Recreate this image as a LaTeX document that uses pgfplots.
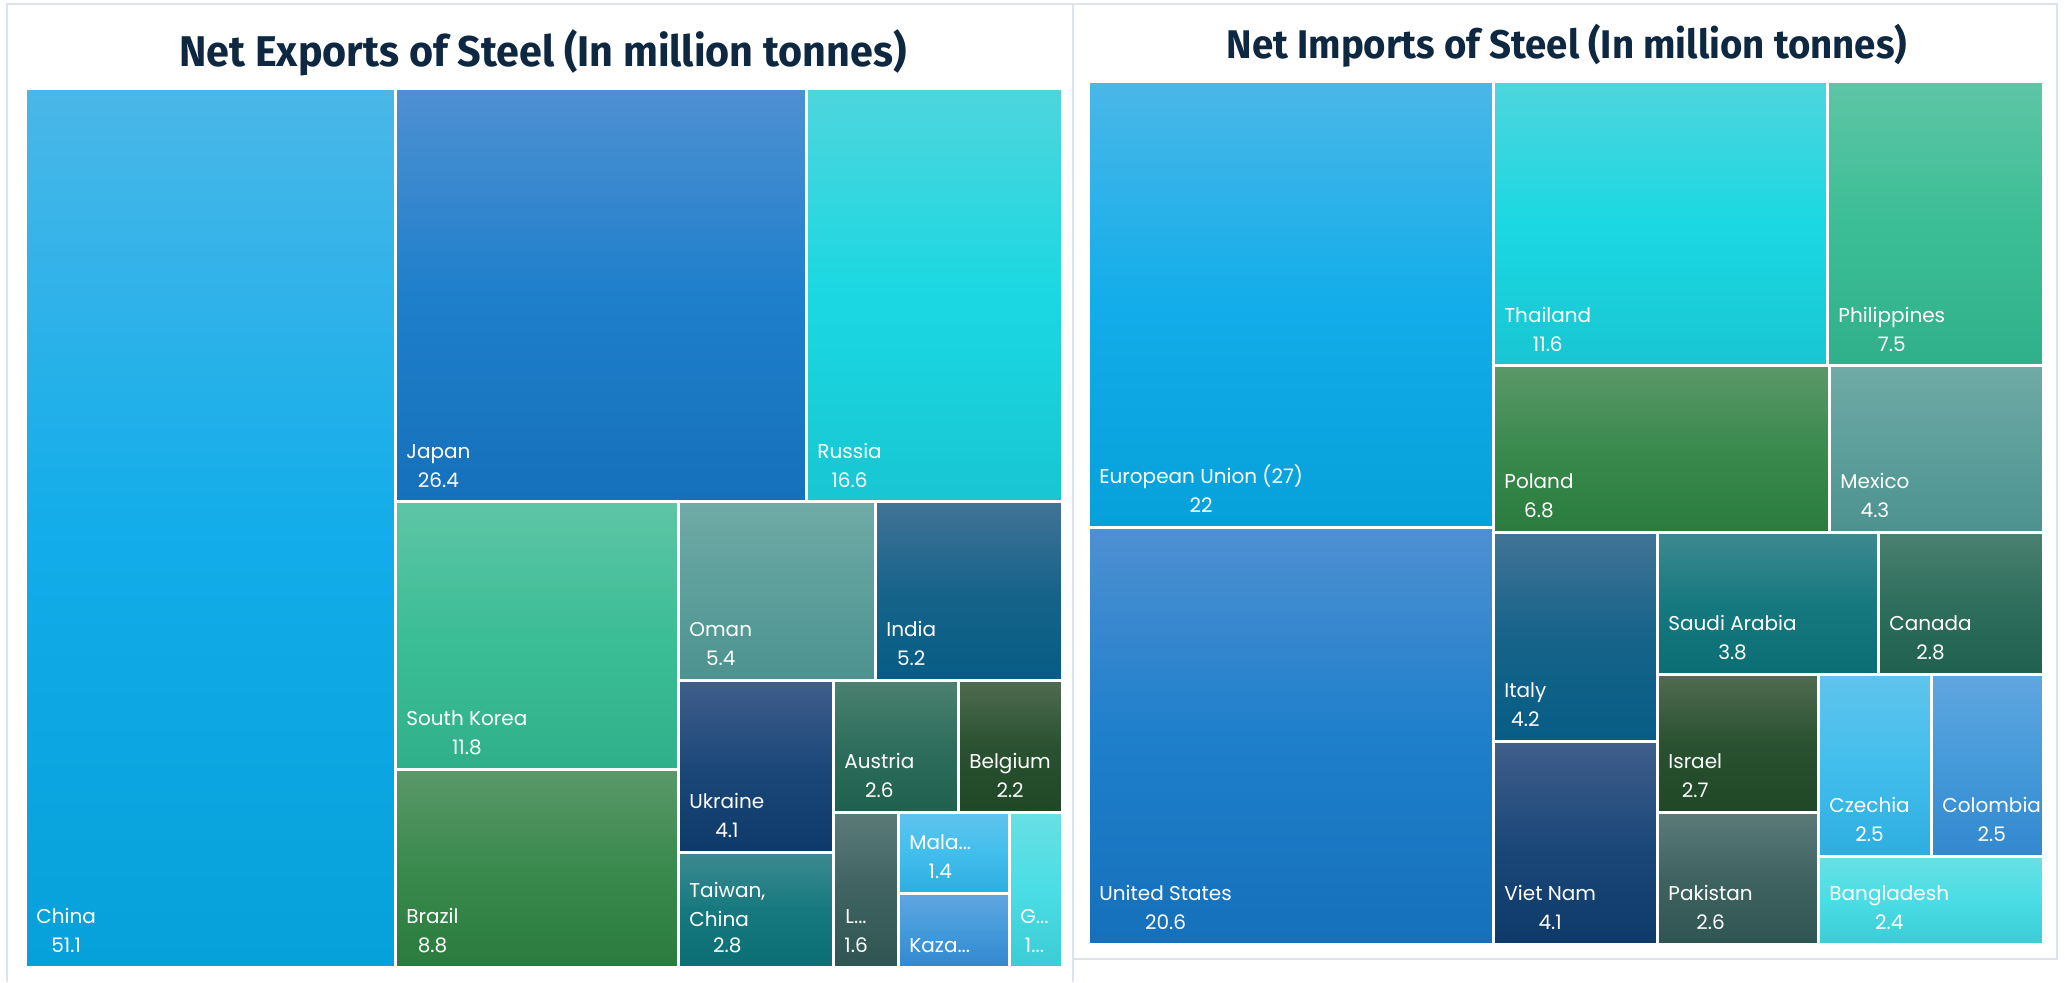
\documentclass[border=0pt]{standalone}
\usepackage{fontspec}
\setmainfont{Poppins}
\newfontfamily\titlefont{Fira Sans}[FakeStretch=0.96]
\usepackage{pgfplots}
\pgfplotsset{compat=1.18}
\definecolor{titlecol}{HTML}{0E2841}
\definecolor{bordergray}{HTML}{DCE3EA}
\definecolor{c1t}{HTML}{4AB7E8}\definecolor{c1m}{HTML}{12ADEA}\definecolor{c1b}{HTML}{06A0DA}
\definecolor{c2t}{HTML}{4E90D2}\definecolor{c2m}{HTML}{1E7FCB}\definecolor{c2b}{HTML}{1670BB}
\definecolor{c3t}{HTML}{4ED5DD}\definecolor{c3m}{HTML}{1AD8E2}\definecolor{c3b}{HTML}{18C6D2}
\definecolor{c4t}{HTML}{5EC5A5}\definecolor{c4m}{HTML}{3BBE95}\definecolor{c4b}{HTML}{30B08A}
\definecolor{c5t}{HTML}{5B9869}\definecolor{c5m}{HTML}{3A8A4E}\definecolor{c5b}{HTML}{2A7B3D}
\definecolor{c6t}{HTML}{70AAA6}\definecolor{c6m}{HTML}{5C9F9B}\definecolor{c6b}{HTML}{4D928F}
\definecolor{c7t}{HTML}{417396}\definecolor{c7m}{HTML}{17638A}\definecolor{c7b}{HTML}{065D85}
\definecolor{c8t}{HTML}{405E8B}\definecolor{c8m}{HTML}{1C4879}\definecolor{c8b}{HTML}{0E3A6A}
\definecolor{c9t}{HTML}{3D8A90}\definecolor{c9m}{HTML}{16797F}\definecolor{c9b}{HTML}{0B6E74}
\definecolor{c10t}{HTML}{4B8171}\definecolor{c10m}{HTML}{2F6E5C}\definecolor{c10b}{HTML}{1F614E}
\definecolor{c11t}{HTML}{506B51}\definecolor{c11m}{HTML}{2A5131}\definecolor{c11b}{HTML}{1F4826}
\definecolor{c12t}{HTML}{5B7B79}\definecolor{c12m}{HTML}{3F6361}\definecolor{c12b}{HTML}{2F5552}
\definecolor{c13t}{HTML}{60C4ED}\definecolor{c13m}{HTML}{42BEEC}\definecolor{c13b}{HTML}{2DAEE0}
\definecolor{c14t}{HTML}{60A6E0}\definecolor{c14m}{HTML}{449AD9}\definecolor{c14b}{HTML}{3388CF}
\definecolor{c15t}{HTML}{68E0E4}\definecolor{c15m}{HTML}{4ADDE5}\definecolor{c15b}{HTML}{3BCCD6}
% tile: color, x1, x2, y1 (top), y2 (bottom), label
\newcommand\tile[6]{%
  \addplot[draw=white, line width=1.5pt, top color=#1t, bottom color=#1b, middle color=#1m]
    coordinates {(#2,#4) (#3,#4) (#3,#5) (#2,#5)} -- cycle;
  \node[anchor=south west, inner sep=0pt, text=white, align=center,
        font=\fontsize{10}{14.5}\selectfont, xshift=5.5pt, yshift=7pt]
    at (axis cs:#2,#5) {#6};
}
\begin{document}
\begin{tikzpicture}
\begin{axis}[scale only axis, width=1032.5pt, height=491pt,
  xmin=0, xmax=2065, ymin=0, ymax=982, y dir=reverse,
  hide axis, clip=false]
\addplot[draw=none, fill=white] coordinates {(0,0) (2065,0) (2065,982) (0,982)} -- cycle;
% panel borders
\addplot[draw=bordergray, line width=0.8pt] coordinates {(7,982) (7,4) (2057,4) (2057,959) (1073,959)};
\addplot[draw=bordergray, line width=0.8pt] coordinates {(1073,4) (1073,982)};
% Net exports
\tile{c1}{25}{395}{89}{967}{China\\51.1}
\tile{c2}{395}{806}{89}{502}{Japan\\26.4}
\tile{c3}{806}{1062}{89}{502}{Russia\\16.6}
\tile{c4}{395}{678}{502}{769}{South Korea\\11.8}
\tile{c5}{395}{678}{769}{967}{Brazil\\8.8}
\tile{c6}{678}{875}{502}{680}{Oman\\5.4}
\tile{c7}{875}{1062}{502}{680}{India\\5.2}
\tile{c8}{678}{833}{680}{852}{Ukraine\\4.1}
\tile{c9}{678}{833}{852}{967}{\begin{tabular}{@{}l@{}}Taiwan,\\China\end{tabular}\\2.8}
\tile{c10}{833}{958}{680}{812}{Austria\\2.6}
\tile{c11}{958}{1062}{680}{812}{Belgium\\2.2}
\tile{c12}{833}{898}{812}{967}{L...\\1.6}
\tile{c13}{898}{1009}{812}{893}{Mala...\\1.4}
\tile{c14}{898}{1009}{893}{967}{Kaza...}
\tile{c15}{1009}{1062}{812}{967}{G...\\1...}
% Net imports
\tile{c1}{1088}{1493}{82}{527}{European Union (27)\\22}
\tile{c2}{1088}{1493}{527}{944}{United States\\20.6}
\tile{c3}{1493}{1827}{82}{366}{Thailand\\11.6}
\tile{c4}{1827}{2043}{82}{366}{Philippines\\7.5}
\tile{c5}{1493}{1829}{366}{532}{Poland\\6.8}
\tile{c6}{1829}{2043}{366}{532}{Mexico\\4.3}
\tile{c7}{1493}{1657}{532}{741}{Italy\\4.2}
\tile{c8}{1493}{1657}{741}{944}{Viet Nam\\4.1}
\tile{c9}{1657}{1878}{532}{674}{Saudi Arabia\\3.8}
\tile{c10}{1878}{2043}{532}{674}{Canada\\2.8}
\tile{c11}{1657}{1818}{674}{812}{Israel\\2.7}
\tile{c12}{1657}{1818}{812}{944}{Pakistan\\2.6}
\tile{c13}{1818}{1931}{674}{856}{Czechia\\2.5}
\tile{c14}{1931}{2043}{674}{856}{Colombia\\2.5}
\tile{c15}{1818}{2043}{856}{944}{Bangladesh\\2.4}
% titles
\node[text=titlecol, font=\titlefont\bfseries\fontsize{21.5}{24}\selectfont] at (axis cs:543,53) {Net Exports of Steel (In million tonnes)};
\node[text=titlecol, font=\titlefont\bfseries\fontsize{20}{22}\selectfont] at (axis cs:1567,46) {Net Imports of Steel (In million tonnes)};
\end{axis}
\end{tikzpicture}
\end{document}
